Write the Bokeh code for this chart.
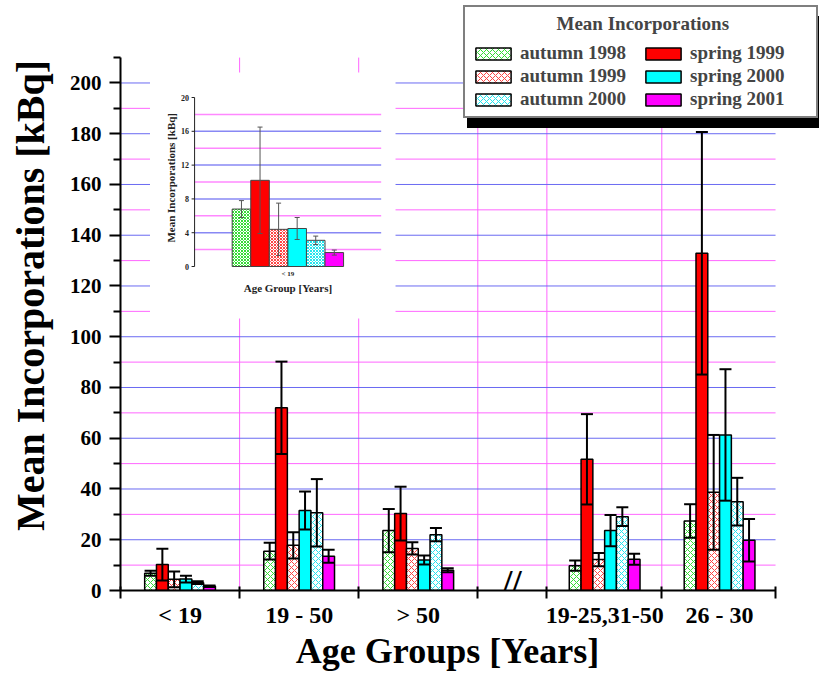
import math
from bokeh.plotting import figure
from bokeh.models import (Range1d, FixedTicker, Legend, LegendItem, Whisker, TeeHead,
                          ColumnDataSource, Label)
from bokeh.core.properties import value
from bokeh.embed import file_html
from bokeh.resources import INLINE

# ---------------- data ----------------
groups = ["< 19", "19 - 50", "> 50", "19-25,31-50", "26 - 30"]
series = ["autumn 1998", "spring 1999", "autumn 1999", "spring 2000", "autumn 2000", "spring 2001"]

autumn1998 = [6.8, 15.5, 23.6, 9.8, 27.4]
spring1999 = [10.2, 72.0, 30.3, 51.7, 132.9]
autumn1999 = [4.4, 17.8, 16.6, 12.2, 38.7]
spring2000 = [4.5, 31.5, 12.0, 23.6, 61.3]
autumn2000 = [3.1, 30.6, 22.0, 29.1, 35.0]
spring2001 = [1.65, 13.5, 8.0, 12.3, 19.8]

autumn1998_err = [1.0, 3.3, 8.5, 2.0, 6.6]
spring1999_err = [6.3, 18.2, 10.6, 17.8, 47.8]
autumn1999_err = [3.1, 5.2, 2.4, 2.6, 22.6]
spring2000_err = [1.3, 7.5, 1.8, 6.2, 25.9]
autumn2000_err = [0.5, 13.3, 2.6, 3.7, 9.4]
spring2001_err = [0.3, 2.6, 0.8, 2.2, 8.4]

y_major = [0, 20, 40, 60, 80, 100, 120, 140, 160, 180, 200]
y_minor = [10, 30, 50, 70, 90, 110, 130, 150, 170, 190, 210]
inset_ticks = [0, 4, 8, 12, 16, 20]
inset_blue = [4, 8, 12, 16]
inset_pink = [2, 6, 10, 14, 18]

x_title = "Age Groups [Years]"
y_title = "Mean Incorporations [kBq]"
legend_title = "Mean Incorporations"

# ---------------- layout (positions, not data) ----------------
group_pos = [0.5, 1.5, 2.5, 4.065, 5.03]
boundaries = [0, 1, 2, 3, 3.58, 4.545, 5.5]
bw = 0.099
X_END = boundaries[-1]
Y_END = y_minor[-1]

SERIF = "Liberation Serif"
BLUE = "#6a6af2"
PINK = "#ff66ff"
NBSP = "\u00a0"

means = [autumn1998, spring1999, autumn1999, spring2000, autumn2000, spring2001]
errs = [autumn1998_err, spring1999_err, autumn1999_err, spring2000_err, autumn2000_err, spring2001_err]
styles = [
    dict(fill_color="white", hatch_pattern="x", hatch_color="#33dd33"),
    dict(fill_color="#ff0000"),
    dict(fill_color="white", hatch_pattern="x", hatch_color="#ff4444"),
    dict(fill_color="#00ffff"),
    dict(fill_color="white", hatch_pattern="x", hatch_color="#22e5ee"),
    dict(fill_color="#ff00ff"),
]

# frame covers the whole area right of the y axis so the legend is not clipped;
# axes are bounded to the data region
p = figure(width=819, height=675, x_range=Range1d(0, 5.869), y_range=Range1d(0, 232.5),
           output_backend="svg", toolbar_location=None,
           min_border_left=120, min_border_right=0, min_border_top=0, min_border_bottom=85)
p.outline_line_color = None
p.background_fill_color = "white"
p.border_fill_color = "white"
p.xgrid.visible = False
p.ygrid.visible = False

# x axis
xa = p.xaxis[0]
xa.bounds = (0, X_END)
xa.ticker = FixedTicker(ticks=group_pos, minor_ticks=boundaries)
xa.major_label_overrides = {float(c): g for c, g in zip(group_pos, groups)}
xa.major_tick_in = 0
xa.major_tick_out = 0
xa.minor_tick_in = 4
xa.minor_tick_out = 8
xa.minor_tick_line_color = "black"
xa.minor_tick_line_width = 2
xa.axis_line_width = 2
xa.axis_line_color = "black"
xa.major_label_standoff = 3
xa.major_label_text_font = SERIF
xa.major_label_text_font_style = "bold"
xa.major_label_text_font_size = "24px"
xa.major_label_text_color = "black"
# trailing no-break spaces shift the centred title under the bounded axis
xa.axis_label = x_title + NBSP * 5
xa.axis_label_text_font = SERIF
xa.axis_label_text_font_style = "bold"
xa.axis_label_text_font_size = "36px"
xa.axis_label_text_color = "black"
xa.axis_label_standoff = 0

# y axis
ya = p.yaxis[0]
ya.bounds = (0, Y_END)
ya.ticker = FixedTicker(ticks=y_major, minor_ticks=y_minor)
ya.major_tick_in = 0
ya.major_tick_out = 11
ya.minor_tick_in = 0
ya.minor_tick_out = 7
ya.major_tick_line_width = 2
ya.minor_tick_line_width = 2
ya.major_tick_line_color = "black"
ya.minor_tick_line_color = "black"
ya.axis_line_width = 2
ya.axis_line_color = "black"
ya.major_label_standoff = 8
ya.major_label_text_font = SERIF
ya.major_label_text_font_style = "bold"
ya.major_label_text_font_size = "21px"
ya.major_label_text_color = "black"
ya.axis_label = y_title
ya.axis_label_text_font = SERIF
ya.axis_label_text_font_style = "bold"
ya.axis_label_text_font_size = "40px"
ya.axis_label_text_color = "black"
ya.axis_label_standoff = 14

# grid lines, limited to the data region
vx = boundaries[1:-1]
p.segment(x0=vx, x1=vx, y0=[0] * len(vx), y1=[Y_END] * len(vx),
          line_color=PINK, line_width=1, level="underlay")
hb = y_major[1:]
p.segment(x0=[0] * len(hb), x1=[X_END] * len(hb), y0=hb, y1=hb,
          line_color=BLUE, line_width=1, level="underlay")
hp = y_minor[:-1]
p.segment(x0=[0] * len(hp), x1=[X_END] * len(hp), y0=hp, y1=hp,
          line_color=PINK, line_width=1, level="underlay")

# main bars
renderers = []
for i, (m, e, st) in enumerate(zip(means, errs, styles)):
    xs = [c + (i - 2.5) * bw for c in group_pos]
    src = ColumnDataSource(dict(x=xs, top=m,
                                upper=[a + b for a, b in zip(m, e)],
                                lower=[a - b for a, b in zip(m, e)]))
    kw = dict(st)
    if "hatch_pattern" in kw:
        kw.update(hatch_scale=6, hatch_weight=1)
    r = p.vbar(x="x", top="top", width=bw, source=src, line_color="black", line_width=1.5, **kw)
    renderers.append(r)
    p.add_layout(Whisker(source=src, base="x", upper="upper", lower="lower", dimension="height",
                         level="annotation", line_color="black", line_width=2,
                         upper_head=TeeHead(size=12, line_width=2, line_color="black"),
                         lower_head=TeeHead(size=12, line_width=2, line_color="black")))

# ---------------- inset (drawn on extra ranges inside the main plot) ----------------
# inset x: 0..1 spans page x 203..412 ; inset y: 0..20 spans page y 266..97
p.extra_x_ranges = {"ix": Range1d(-0.3971, 3.3493)}
p.extra_y_ranges = {"iy": Range1d(-38.34, 31.48)}
IR = dict(x_range_name="ix", y_range_name="iy")

p.quad(left=[-0.239], right=[1.077], bottom=[-6.15], top=[22.96], fill_color="white",
       line_color=None, **IR)
p.segment(x0=[0] * len(inset_pink), x1=[1] * len(inset_pink), y0=inset_pink, y1=inset_pink,
          line_color="#ff88ff", line_width=1.5, **IR)
p.segment(x0=[0] * len(inset_blue), x1=[1] * len(inset_blue), y0=inset_blue, y1=inset_blue,
          line_color="#8888f4", line_width=1.5, **IR)
p.segment(x0=[0], x1=[0], y0=[inset_ticks[0]], y1=[inset_ticks[-1]], line_color="#222222",
          line_width=1, **IR)
p.segment(x0=[-0.016] * len(inset_ticks), x1=[0] * len(inset_ticks), y0=inset_ticks, y1=inset_ticks,
          line_color="#222222", line_width=1, **IR)
p.text(x=[-0.03] * len(inset_ticks), y=inset_ticks, text=[str(t) for t in inset_ticks],
       text_align="right", text_baseline="middle", text_font=value(SERIF), text_font_style="bold",
       text_font_size="8px", text_color="#222222", **IR)
p.text(x=[-0.124], y=[10.5], text=[y_title], angle=math.pi / 2,
       text_align="center", text_baseline="middle", text_font=value(SERIF), text_font_style="bold",
       text_font_size="11px", text_color="#222222", **IR)
p.text(x=[0.5], y=[-0.85], text=[groups[0]], text_align="center", text_baseline="middle",
       text_font=value(SERIF), text_font_style="bold", text_font_size="7px", text_color="#222222", **IR)
p.text(x=[0.5], y=[-2.6], text=["Age Group [Years]"], text_align="center", text_baseline="middle",
       text_font=value(SERIF), text_font_style="bold", text_font_size="11px", text_color="#222222", **IR)

ibw = 0.0995
for i, (m, e, st) in enumerate(zip(means, errs, styles)):
    src = ColumnDataSource(dict(x=[0.5 + (i - 2.5) * ibw], top=[m[0]],
                                upper=[m[0] + e[0]], lower=[m[0] - e[0]]))
    kw = dict(st)
    if "hatch_pattern" in kw:
        kw.update(hatch_scale=3, hatch_weight=1)
    p.vbar(x="x", top="top", width=ibw, source=src, line_color="#444444", line_width=1, **kw, **IR)
    p.add_layout(Whisker(source=src, base="x", upper="upper", lower="lower", dimension="height",
                         level="annotation", line_color="#555555", line_width=1,
                         upper_head=TeeHead(size=5, line_width=1, line_color="#555555"),
                         lower_head=TeeHead(size=5, line_width=1, line_color="#555555"), **IR))

# axis break mark
p.add_layout(Label(x=3.29, y=3.5, text="//", text_align="center", text_baseline="middle",
                   text_font=SERIF, text_font_size="34px", text_font_style="bold", text_color="black"))

# legend shadow (a blank black legend box behind the real one)
blank = p.vbar(x=[], top=[], width=0.1, fill_alpha=0, line_alpha=0)
shadow = Legend(items=[LegendItem(label=" ", renderers=[blank])], location=(347, 462),
                glyph_width=10, glyph_height=10, label_width=322, label_height=90,
                label_standoff=0, padding=10, margin=0, spacing=0,
                border_line_color="black", border_line_width=1,
                background_fill_color="black", background_fill_alpha=1,
                label_text_color="black")
p.add_layout(shadow, "center")

order = [0, 2, 4, 1, 3, 5]
legend = Legend(items=[LegendItem(label=series[k], renderers=[renderers[k]]) for k in order],
                ncols=2, location=(343, 472),
                # leading no-break spaces centre the heading within the box
                title=NBSP * 18 + legend_title,
                title_text_font=SERIF, title_text_font_style="bold", title_text_font_size="19px",
                title_standoff=7,
                label_text_font=SERIF, label_text_font_style="bold", label_text_font_size="19px",
                glyph_width=44, glyph_height=15, label_width=120, spacing=1, label_standoff=5,
                padding=6, margin=0, border_line_color="black", border_line_width=2,
                background_fill_color="white", background_fill_alpha=1)
p.add_layout(legend, "center")

open("out.html", "w").write(file_html(p, INLINE))
